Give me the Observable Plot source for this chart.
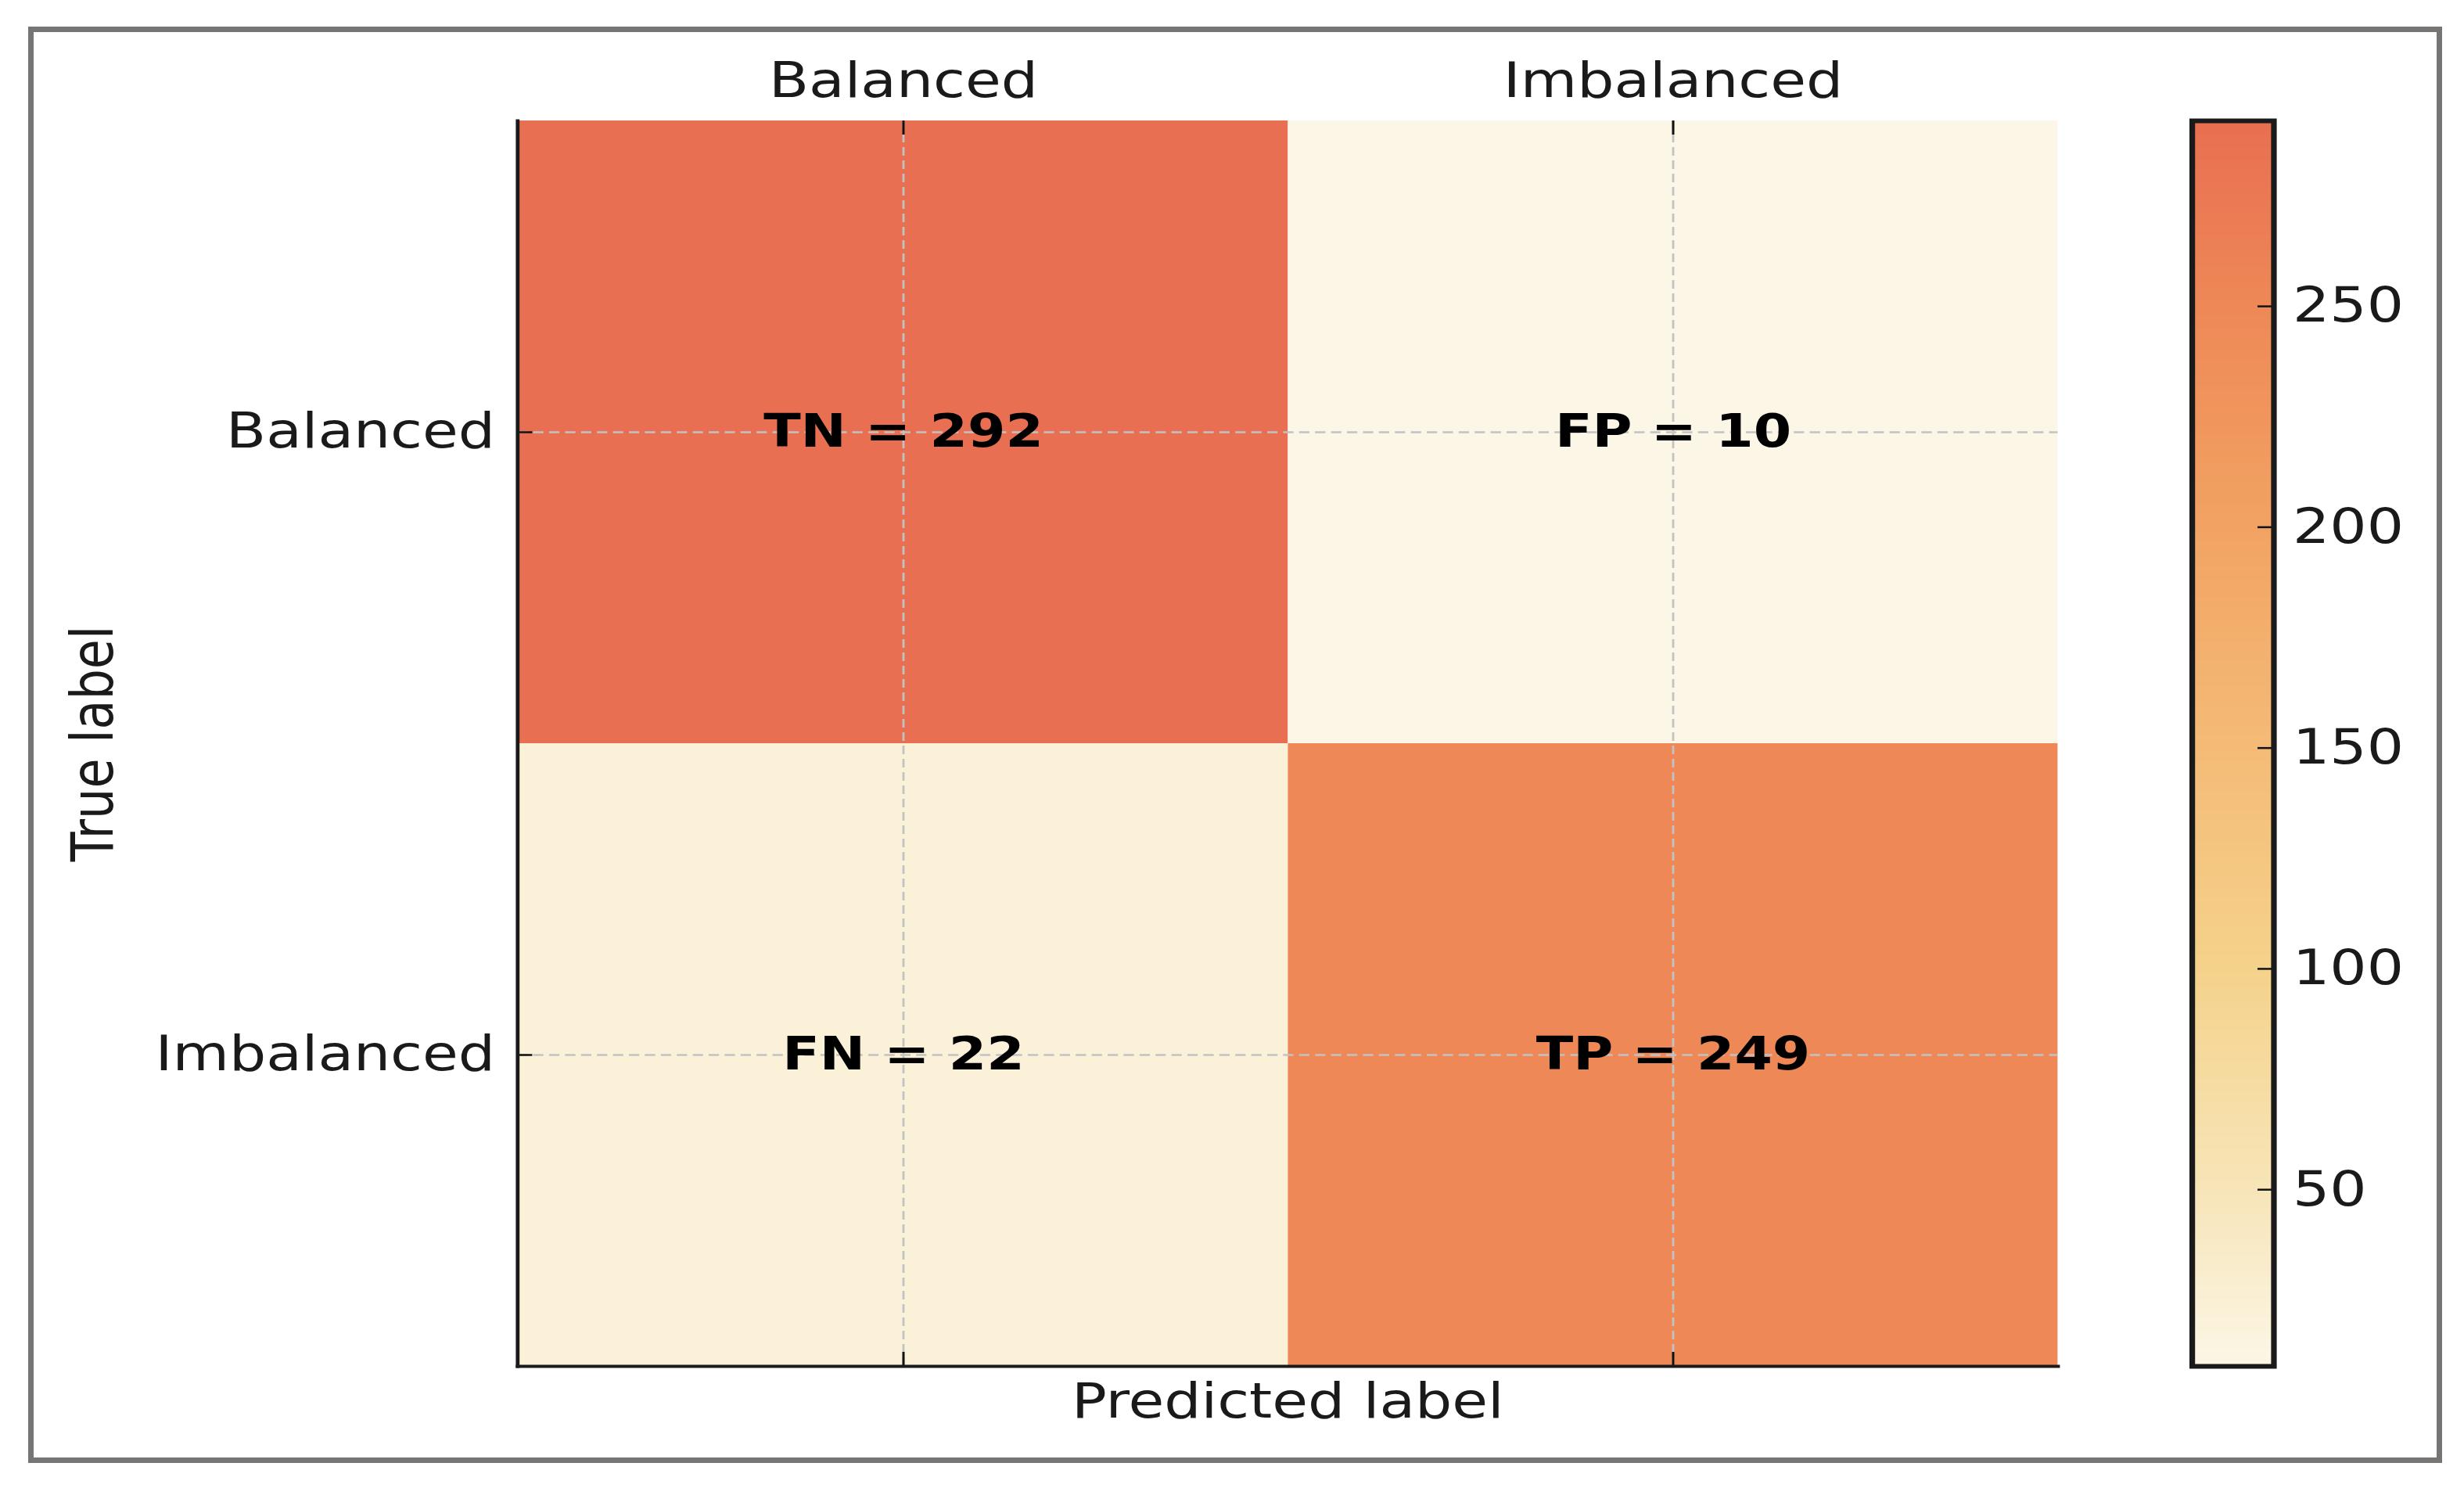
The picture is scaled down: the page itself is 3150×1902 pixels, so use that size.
<!DOCTYPE html>
<html>
<head>
<meta charset="utf-8">
<script src="https://cdn.jsdelivr.net/npm/d3@7"></script>
<script src="https://cdn.jsdelivr.net/npm/@observablehq/plot@0.6"></script>
<style>
html, body { margin: 0; padding: 0; background: #ffffff; overflow: hidden; width: 3150px; height: 1902px; }
#frame { position: absolute; left: 36px; top: 34px; width: 3072px; height: 1822px; border: 7px solid #777474; }
#stage { position: absolute; left: 0; top: 0; width: 2625px; height: 1902px; transform: scaleX(1.2); transform-origin: 0 0; }
#stage svg { position: absolute; left: 0; top: 0; }
</style>
</head>
<body>
<div id="frame"></div>
<div id="stage"></div>
<script>
// ---- data ----
const predictedLabels = ["Balanced", "Imbalanced"];
const trueLabels = ["Balanced", "Imbalanced"];
const cellCodes = ["TN", "FP", "FN", "TP"];
const cellCounts = [292, 10, 22, 249];
const colorbarTicks = [50, 100, 150, 200, 250];
const colorDomain = [10, 292];
// colour map stops (value -> colour)
const stopValues = [10, 50, 100, 150, 200, 250, 292];
const stopColors = ["#fcf6e6", "#f7e5b8", "#f5d28b", "#f4bb77", "#f2a363", "#ee8857", "#e86f51"];

const cells = cellCodes.map((code, i) => ({
  code,
  count: cellCounts[i],
  actual: trueLabels[Math.floor(i / 2)],
  predicted: predictedLabels[i % 2]
}));

// ---- layout (unstretched coordinates) ----
const W = 2625, H = 1902;
const fL = 551, fR = 2192, fT = 154, fB = 1746;
const plotW = fR - fL, plotH = fB - fT;
const cbL = 2335, cbR = 2422;

const colorOpts = {type: "linear", domain: stopValues, range: stopColors, interpolate: "rgb"};
const baseStyle = {fontFamily: "DejaVu Sans", fontSize: "62px", color: "#1a1a1a", background: "transparent", overflow: "visible"};
const tickStroke = {stroke: "#111111", strokeWidth: 2.5};

const main = Plot.plot({
  width: W, height: H,
  marginLeft: fL, marginRight: W - fR, marginTop: fT, marginBottom: H - fB,
  style: baseStyle,
  x: {type: "band", domain: predictedLabels, padding: 0, label: null},
  y: {type: "band", domain: trueLabels, padding: 0, label: null},
  color: colorOpts,
  marks: [
    Plot.cell(cells, {x: "predicted", y: "actual", fill: "count"}),
    Plot.gridX({stroke: "#c2c2c2", strokeOpacity: 1, strokeWidth: 2.3, strokeDasharray: "11,6"}),
    Plot.gridY({stroke: "#c2c2c2", strokeOpacity: 1, strokeWidth: 2.3, strokeDasharray: "11,6"}),
    Plot.text(cells, {x: "predicted", y: "actual", text: d => `${d.code} = ${d.count}`, fontSize: 58, fontWeight: "bold", fill: "#000000"}),
    Plot.tickX(predictedLabels, {x: d => d, insetBottom: plotH - 18, ...tickStroke}),
    Plot.tickX(predictedLabels, {x: d => d, insetTop: plotH - 18, ...tickStroke}),
    Plot.tickY(trueLabels, {y: d => d, insetRight: plotW - 16, ...tickStroke}),
    Plot.axisX({anchor: "top", tickSize: 0, tickPadding: 31, fontSize: 62, label: null}),
    Plot.axisY({anchor: "left", tickSize: 0, tickPadding: 24, fontSize: 62, label: null}),
    Plot.frame({anchor: "left", stroke: "#1a1a1a", strokeWidth: 4}),
    Plot.frame({anchor: "bottom", stroke: "#1a1a1a", strokeWidth: 4}),
    Plot.text(["Predicted label"], {frameAnchor: "bottom", lineAnchor: "middle", dy: 46, fontSize: 62, fill: "#1a1a1a"}),
    Plot.text(["True label"], {frameAnchor: "left", textAnchor: "middle", lineAnchor: "middle", dx: -451, rotate: -90, fontSize: 62, fill: "#1a1a1a"})
  ]
});

const gradientSteps = d3.range(colorDomain[0], colorDomain[1], 1);
const colorbar = Plot.plot({
  width: W, height: H,
  marginLeft: cbL, marginRight: W - cbR, marginTop: fT, marginBottom: H - fB,
  style: baseStyle,
  x: {domain: [0, 1], axis: null},
  y: {domain: colorDomain, label: null},
  color: colorOpts,
  marks: [
    Plot.rect(gradientSteps, {x1: 0, x2: 1, y1: d => d, y2: d => Math.min(d + 1.6, colorDomain[1]), fill: d => d + 0.5}),
    Plot.tickY(colorbarTicks, {y: d => d, insetLeft: (cbR - cbL) - 17, ...tickStroke}),
    Plot.frame({stroke: "#1a1a1a", strokeWidth: 6}),
    Plot.axisY({anchor: "right", ticks: colorbarTicks, tickSize: 0, tickPadding: 20, fontSize: 62, label: null})
  ]
});

const stage = document.getElementById("stage");
stage.appendChild(main);
stage.appendChild(colorbar);
</script>
</body>
</html>
